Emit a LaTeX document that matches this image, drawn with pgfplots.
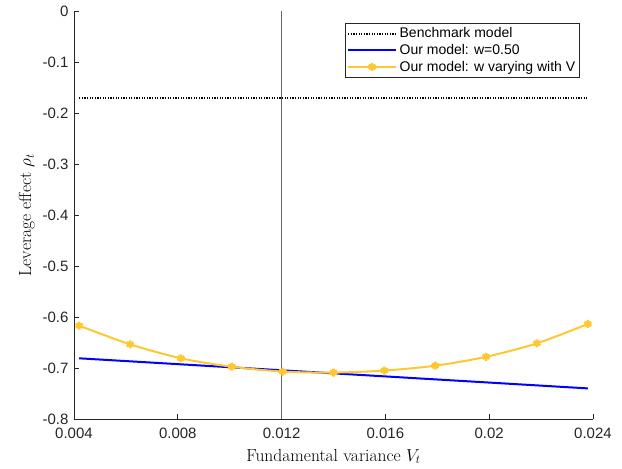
\documentclass[border=0pt]{standalone}
\usepackage{pgfplots}
\pgfplotsset{compat=1.18}
\usepackage{fontspec}
\setmainfont{Liberation Sans}
\newfontfamily\lmr{Latin Modern Roman}
\definecolor{myyellow}{RGB}{255,200,50}
\definecolor{axgray}{RGB}{38,38,38}
\begin{document}
\begin{tikzpicture}
\begin{axis}[
  at={(0pt,0pt)}, anchor=south west,
  width=519pt, height=408pt, scale only axis,
  xmin=0.004, xmax=0.024, ymin=-0.8, ymax=0,
  scaled x ticks=false, scaled y ticks=false,
  axis x line*=bottom, axis y line*=left,
  axis line style={axgray, line width=0.7pt},
  tick align=inside, tick style={axgray, line width=0.7pt},
  major tick length=5pt,
  xtick={0.004,0.008,0.012,0.016,0.02,0.024},
  xticklabels={0.004,0.008,0.012,0.016,0.02,0.024},
  ytick={-0.8,-0.7,-0.6,-0.5,-0.4,-0.3,-0.2,-0.1,0},
  yticklabels={-0.8,-0.7,-0.6,-0.5,-0.4,-0.3,-0.2,-0.1,0},
  ticklabel style={font=\fontsize{15}{18}\selectfont, text=axgray},
  xticklabel style={yshift=-5pt},
  yticklabel style={xshift=-2pt},
  /pgf/number format/assume math mode=true,
  xlabel={\lmr\fontsize{17.5}{20}\selectfont Fundamental variance $V_t$},
  ylabel={\lmr\fontsize{17.5}{20}\selectfont Leverage effect $\rho_t$},
  xlabel style={yshift=-4pt},
  ylabel style={yshift=1pt},
  legend style={at={(0.975,0.9706)}, anchor=north east, draw=axgray, line width=0.6pt,
    font=\fontsize{14}{16}\selectfont, row sep=0pt, inner sep=2pt,
    nodes={inner sep=2.5pt}},
  legend cell align=left,
  legend image code/.code={\draw[mark repeat=2,mark phase=2,#1] plot coordinates {(0pt,0pt) (24pt,0pt) (48pt,0pt)};},
  clip=false,
]
\addplot[black, line width=2pt, dash pattern=on 1.2pt off 1.4pt] coordinates {(0.0042,-0.171) (0.0238,-0.171)};
\addlegendentry{Benchmark model}
\addplot[blue, line width=2pt] coordinates {(0.0042,-0.681) (0.0238,-0.740)};
\addlegendentry{Our model: w=0.50}
\addplot[myyellow, line width=2pt, smooth, mark=asterisk, mark size=4pt, mark options={line width=2.6pt, solid}] coordinates {
(0.0042,-0.617) (0.00616,-0.6535) (0.00812,-0.681) (0.01008,-0.6975) (0.01204,-0.707)
(0.0140,-0.709) (0.01596,-0.705) (0.01792,-0.6955) (0.01988,-0.678) (0.02184,-0.6516) (0.0238,-0.6137)};
\addlegendentry{Our model: w varying with V}
\draw[gray!80!black, line width=0.6pt] (axis cs:0.012,-0.8) -- (axis cs:0.012,0);
\end{axis}
\path (-74pt,-50pt) rectangle (548pt,419pt);
\end{tikzpicture}
\end{document}
